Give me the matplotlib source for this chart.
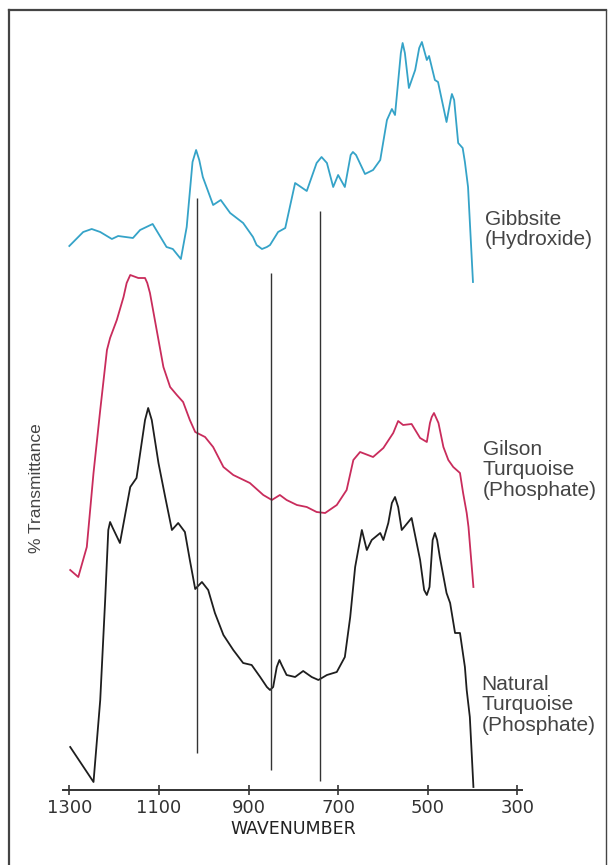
import matplotlib.pyplot as plt
from matplotlib.lines import Line2D

# Spektren (Wellenzahl in cm-1, Transmission in willkuerlichen Einheiten ueber der Achse)
gib_wn = [1300, 1269, 1250, 1231, 1205, 1191, 1158, 1142, 1114, 1083, 1069, 1051, 1038,
          1025, 1017, 1010, 1002, 979, 962, 941, 912, 890, 882, 870, 859, 852, 834, 818,
          796, 770, 748, 737, 725, 711, 700, 685, 672, 667, 660, 640, 622, 606, 591, 580,
          573, 560, 556, 551, 542, 528, 519, 513, 510, 502, 497, 484, 477, 458, 449, 446,
          441, 432, 422, 417, 410, 399]
gib_t = [544, 558, 561, 558, 551, 554, 552, 560, 566, 543, 541, 531, 563,
         628, 640, 630, 613, 585, 590, 577, 567, 553, 545, 541, 543, 545, 558, 562,
         607, 599, 627, 633, 627, 603, 615, 603, 635, 638, 635, 616, 620, 630, 670, 681,
         675, 737, 747, 737, 702, 720, 742, 748, 743, 730, 734, 710, 708, 668, 690, 696,
         690, 647, 642, 628, 603, 508]

gil_wn = [1298, 1280, 1261, 1246, 1231, 1216, 1209, 1194, 1179, 1172, 1164, 1146, 1131,
          1126, 1120, 1105, 1090, 1075, 1060, 1046, 1031, 1019, 997, 979, 956, 934, 897,
          867, 848, 830, 815, 792, 770, 748, 729, 703, 681, 666, 651, 622, 599, 577, 566,
          555, 536, 517, 502, 495, 491, 486, 482, 476, 465, 454, 443, 428, 421, 413, 409,
          398]
gil_t = [220, 213, 243, 317, 380, 440, 452, 470, 493, 507, 515, 512, 512,
         507, 497, 460, 423, 403, 395, 388, 370, 358, 353, 343, 323, 315, 307,
         295, 290, 295, 290, 285, 283, 278, 277, 285, 300, 330, 338, 333, 342, 357, 369,
         365, 366, 352, 348, 367, 373, 377, 373, 367, 343, 330, 323, 317, 297, 277, 263,
         203]

nat_wn = [1298, 1246, 1231, 1220, 1213, 1209, 1203, 1187, 1164, 1150, 1131, 1124, 1116,
          1101, 1086, 1071, 1057, 1042, 1031, 1019, 1004, 990, 975, 956, 934, 912, 893,
          874, 859, 852, 845, 837, 831, 826, 815, 796, 778, 759, 744, 725, 703, 685, 673,
          662, 647, 636, 625, 606, 599, 588, 580, 573, 566, 558, 536, 517, 508, 502, 496,
          489, 484, 479, 473, 458, 450, 439, 428, 417, 413, 406, 398]
nat_t = [43, 8, 90, 190, 260, 268, 262, 247, 303, 312, 370, 382, 370,
         327, 293, 260, 267, 258, 230, 201, 208, 200, 177, 155, 140, 127, 125,
         113, 103, 100, 103, 123, 130, 125, 115, 113, 119, 113, 110, 115, 118, 133, 173,
         223, 260, 240, 250, 257, 250, 267, 287, 293, 283, 260, 272, 230, 200, 195, 203,
         250, 257, 250, 233, 197, 187, 157, 157, 123, 100, 73, 3]

# Markierungslinien
mark_wn = [1016, 850, 741]
mark_top = [592, 517, 579]
mark_bot = [37, 20, 9]

xticks = [1300, 1100, 900, 700, 500, 300]

W, H = 609, 865
fig = plt.figure(figsize=(W / 100, H / 100), dpi=100)
ax = fig.add_axes([62.6 / W, 1 - 790 / H, (521.8 - 62.6) / W, 780 / H])

ax.plot(gib_wn, gib_t, color='#35a3c8', lw=1.3)
ax.plot(gil_wn, gil_t, color='#c92c5c', lw=1.3)
ax.plot(nat_wn, nat_t, color='#1e1e1e', lw=1.3)
ax.vlines(mark_wn, mark_bot, mark_top, color='#333333', lw=1.0)

ax.set_xlim(1315, 290)
ax.set_ylim(0, 780)
for s in ['top', 'left', 'right']:
    ax.spines[s].set_visible(False)
ax.spines['bottom'].set_linewidth(1.4)
ax.spines['bottom'].set_color('#333333')
ax.set_yticks([])
ax.set_xticks(xticks)
ax.set_xticklabels([str(t) for t in xticks], fontsize=13, family='DejaVu Sans', color='#222222')
ax.tick_params(axis='x', direction='inout', length=7, width=1.2, pad=3, colors='#333333')

fig.text(293 / W, 1 - 829 / H, 'WAVENUMBER', ha='center', va='center',
         fontsize=12.5, family='DejaVu Sans', color='#222222')
fig.text(36.7 / W, 1 - 488 / H, '% Transmittance', rotation=90, ha='center', va='center',
         fontsize=12.5, family='Liberation Sans', color='#444444')

lab_font = dict(fontsize=15, family='Liberation Sans', color='#444444', linespacing=1.1,
                ha='left', va='center')
fig.text(485 / W, 1 - 229.5 / H, 'Gibbsite\n(Hydroxide)', **lab_font)
fig.text(482.7 / W, 1 - 470 / H, 'Gilson\nTurquoise\n(Phosphate)', **lab_font)
fig.text(481.7 / W, 1 - 705 / H, 'Natural\nTurquoise\n(Phosphate)', **lab_font)

# Rahmen
fig.add_artist(Line2D([9 / W, 9 / W], [0, 1 - 10 / H], color='#444444', lw=1.6))
fig.add_artist(Line2D([9 / W, 606 / W], [1 - 10 / H, 1 - 10 / H], color='#444444', lw=1.6))
fig.add_artist(Line2D([606 / W, 606 / W], [0, 1 - 10 / H], color='#444444', lw=1.0))

fig.savefig('out.png', dpi=100)
